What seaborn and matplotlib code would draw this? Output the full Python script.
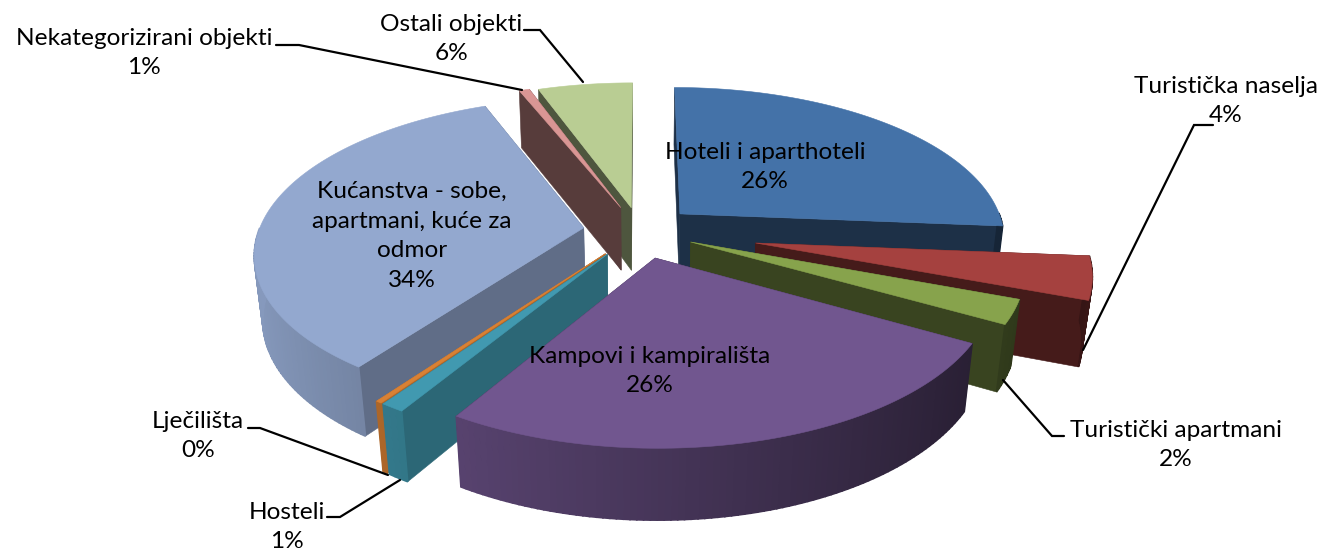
import numpy as np
import matplotlib
matplotlib.use("Agg")
import matplotlib.pyplot as plt
import seaborn as sns
from matplotlib.patches import Polygon

# slices, clockwise from 12 o'clock
names = ["Hoteli i aparthoteli", "Turistička naselja", "Turistički apartmani",
         "Kampovi i kampirališta", "Hosteli", "Lječilišta",
         "Kućanstva - sobe,\napartmani, kuće za\nodmor", "Nekategorizirani objekti",
         "Ostali objekti"]
values = [26.3, 4.4, 2.5, 25.5, 1.0, 0.25, 33.95, 0.6, 5.5]
percent_labels = [26, 4, 2, 26, 1, 0, 34, 1, 6]
explode = [0.17, 0.36, 0.17, 0.18, 0.18, 0.18, 0.175, 0.17, 0.16]
top_colors = ["#4472A8", "#A5413F", "#87A34C", "#71568F", "#4199B0",
              "#D98134", "#93A8CF", "#D99694", "#B9CD93"]
radial_shade = [0.42, 0.42, 0.42, 0.50, 0.67, 0.80, 0.65, 0.40, 0.42]
draw_order = [0, 8, 7, 1, 2, 6, 5, 4, 3]

# label centres, leader lines
label_xy = [(765, 167), (1226, 101), (1176, 445), (650, 371), (287, 527),
            (198, 436), (412, 236), (144, 53), (451, 39)]
leaders = [((524, 30), (540, 30), (583, 82)),
           ((276, 45), (299, 45), (522, 90)),
           ((1213, 125), (1194, 125), (1083, 350)),
           ((1064, 436), (1052, 436), (1003, 380)),
           ((248, 428), (260, 428), (388, 475)),
           ((327, 517), (340, 517), (400, 480))]

# camera
cx, cy = 640, 231
D, A, RX, H, K = 6.4, 967, 325, 65, 0.14

sns.set_theme(style="white")
plt.rcParams["font.family"] = ["Lato", "DejaVu Sans"]
palette = sns.color_palette(top_colors)


def project(x, y, z):
    d = D + y + K * z
    return cx + RX * x * D / d, cy - A * y / d + H * z * D / d


def shade(color, f):
    return tuple(c * f for c in color)


def face(ax, pts, color, lw=0.4):
    ax.add_patch(Polygon(pts, closed=True, facecolor=color, edgecolor=color, lw=lw))


fig = plt.figure(figsize=(13.21, 5.53), dpi=100)
ax = fig.add_axes([0, 0, 1, 1])
ax.set_xlim(0, 1321)
ax.set_ylim(553, 0)
ax.axis("off")

edges = np.cumsum([0] + values) / sum(values) * 2 * np.pi

for i in draw_order:
    a0, a1 = edges[i], edges[i + 1]
    mid = (a0 + a1) / 2
    ox, oy = explode[i] * np.sin(mid), explode[i] * np.cos(mid)
    angles = np.linspace(a0, a1, max(int(np.degrees(a1 - a0)), 2) + 1)
    rx, ry = ox + np.sin(angles), oy + np.cos(angles)
    col = palette[i]

    # flat cut faces
    for a in (a1, a0):
        ex, ey = ox + np.sin(a), oy + np.cos(a)
        face(ax, [project(ox, oy, 0), project(ex, ey, 0),
                  project(ex, ey, 1), project(ox, oy, 1)], shade(col, radial_shade[i]))

    # rim, lit from the left
    for j in range(len(angles) - 1):
        am = (angles[j] + angles[j + 1]) / 2
        if np.cos(am) > 0:
            continue
        f = 0.62 - 0.293 * np.sin(am)
        face(ax, [project(rx[j], ry[j], 0), project(rx[j + 1], ry[j + 1], 0),
                  project(rx[j + 1], ry[j + 1], 1), project(rx[j], ry[j], 1)],
             shade(col, f), lw=1.2)

    # top
    face(ax, [project(ox, oy, 0)] + [project(x, y, 0) for x, y in zip(rx, ry)], col)

for pts in leaders:
    ax.plot(*zip(*pts), color="black", lw=1.6, solid_joinstyle="miter")

for name, pct, (x, y) in zip(names, percent_labels, label_xy):
    ax.text(x, y, f"{name}\n{pct}%", ha="center", va="center", fontsize=17.6,
            color="black", linespacing=1.52)

fig.savefig("out.png", dpi=100)
